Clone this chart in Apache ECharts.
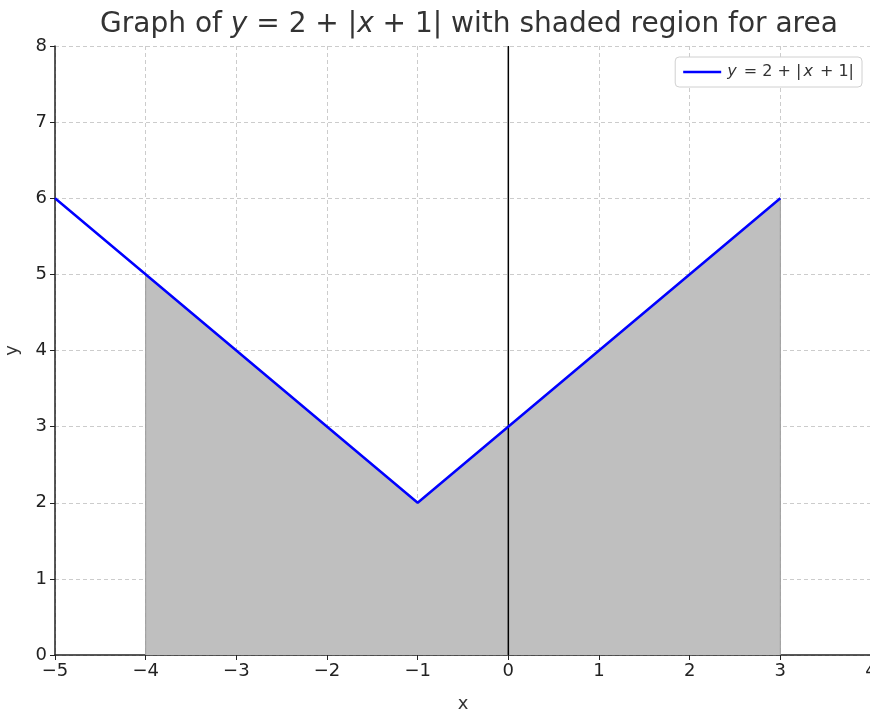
<!DOCTYPE html>
<html><head><meta charset="utf-8">
<script src="https://cdn.jsdelivr.net/npm/echarts@6/dist/echarts.min.js"></script>
<style>html,body{margin:0;padding:0;background:#fff}#c{width:870px;height:709px}</style>
</head><body><div id="c"></div>
<script>
const curveX = [-5, -1, 3];
const curveY = [6, 2, 6];
const shadeX = [-4, -4, -1, 3, 3];
const shadeY = [0, 5, 2, 6, 0];
const vlineX = [0, 0];
const vlineY = [0, 8];
const xTicks = [-5, -4, -3, -2, -1, 0, 1, 2, 3, 4];
const yTicks = [0, 1, 2, 3, 4, 5, 6, 7, 8];

const zip = (a, b) => a.map((v, i) => [v, b[i]]);
const fmt = v => String(v).replace('-', '\u2212');
const chart = echarts.init(document.getElementById('c'), null, {renderer: 'canvas'});
const F = 'DejaVu Sans';
chart.setOption({
  animation: false,
  title: {
    text: '{n|Graph of }{i|y}{n| = 2 + |}{i|x}{n| + 1| with shaded region for area}',
    left: 464, top: 6, textAlign: 'center',
    textStyle: {rich: {
      n: {fontFamily: F, fontSize: 28, color: '#333', fontWeight: 'normal'},
      i: {fontFamily: F, fontSize: 28, color: '#333', fontStyle: 'italic', fontWeight: 'normal'}
    }}
  },
  legend: {
    right: 8, top: 57, orient: 'vertical',
    data: [{name: 'curve', icon: 'path://M0,0 L30,0 L30,2 L0,2 Z'}],
    itemWidth: 38, itemHeight: 3, itemGap: 4,
    padding: [7, 8, 7, 8],
    borderColor: '#d0d0d0', borderWidth: 1, borderRadius: 4,
    backgroundColor: '#fff',
    formatter: () => '{i|y}{n| = 2 + |}{i|x}{n| + 1|}',
    textStyle: {rich: {
      n: {fontFamily: F, fontSize: 16, color: '#333', padding: [0, 1]},
      i: {fontFamily: F, fontSize: 16, color: '#333', fontStyle: 'italic', padding: [0, 1]}
    }}
  },
  grid: {left: 55, top: 46, width: 816, height: 609, containLabel: false, outerBoundsMode: 'none'},
  xAxis: {
    type: 'value', min: -5, max: 4, interval: 1,
    name: 'x', nameLocation: 'middle', nameGap: 40,
    nameTextStyle: {fontFamily: F, fontSize: 18, color: '#333'},
    axisLine: {show: true, onZero: false, lineStyle: {color: '#222', width: 1.5}},
    axisTick: {show: true, length: 5, lineStyle: {color: '#222'}},
    axisLabel: {fontFamily: F, fontSize: 18, color: '#222', margin: 7, formatter: fmt, showMaxLabel: true},
    splitLine: {show: true, lineStyle: {color: '#cccccc', type: [4, 3], width: 1}}
  },
  yAxis: {
    type: 'value', min: 0, max: 8, interval: 1,
    name: 'y', nameLocation: 'middle', nameGap: 34,
    nameTextStyle: {fontFamily: F, fontSize: 18, color: '#333'},
    axisLine: {show: true, onZero: false, lineStyle: {color: '#222', width: 1.5}},
    axisTick: {show: true, length: 5, lineStyle: {color: '#222'}},
    axisLabel: {fontFamily: F, fontSize: 18, color: '#222', margin: 8, formatter: fmt},
    splitLine: {show: true, lineStyle: {color: '#cccccc', type: [4, 3], width: 1}}
  },
  series: [
    {
      name: 'shade', type: 'line', data: zip(shadeX, shadeY), symbol: 'none',
      lineStyle: {color: '#9a9a9a', width: 1},
      areaStyle: {color: '#bfbfbf', opacity: 1, origin: 0},
      silent: true, z: 1
    },
    {
      name: 'vline', type: 'line', data: zip(vlineX, vlineY), symbol: 'none',
      lineStyle: {color: '#000', width: 1.5}, silent: true, z: 2
    },
    {
      name: 'curve', type: 'line', data: zip(curveX, curveY), symbol: 'none',
      lineStyle: {color: '#0000ff', width: 2.5}, itemStyle: {color: '#0000ff'}, z: 3
    }
  ]
});
</script></body></html>
